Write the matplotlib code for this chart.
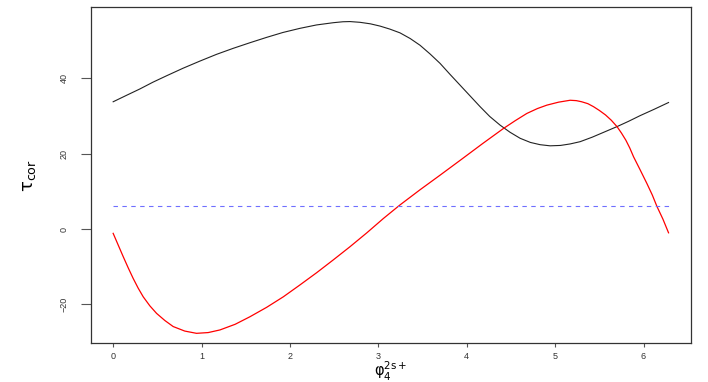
import numpy as np
import matplotlib.pyplot as plt

plt.rcParams['font.family'] = ['Liberation Sans', 'DejaVu Sans']
plt.rcParams['mathtext.fontset'] = 'dejavusans'

# values
black_x = [0.0, 0.15, 0.302, 0.45, 0.604, 0.79, 0.981, 1.17, 1.359, 1.55,
           1.736, 1.92, 2.113, 2.30, 2.491, 2.60, 2.679, 2.793, 2.91, 3.019,
           3.13, 3.245, 3.36, 3.472, 3.585, 3.698, 3.81, 3.925, 4.04, 4.151,
           4.26, 4.377, 4.49, 4.604, 4.72, 4.83, 4.943, 5.06, 5.17, 5.283,
           5.42, 5.56, 5.70, 5.83, 5.96, 6.12, 6.283]
black_y = [33.8, 35.5, 37.2, 39.0, 40.7, 42.7, 44.6, 46.4, 48.0, 49.5,
           50.9, 52.2, 53.3, 54.2, 54.8, 55.05, 55.1, 54.9, 54.5, 53.9,
           53.1, 52.1, 50.6, 48.8, 46.5, 44.0, 41.1, 38.2, 35.3, 32.5,
           29.9, 27.6, 25.7, 24.1, 23.0, 22.4, 22.1, 22.2, 22.6, 23.2,
           24.4, 25.8, 27.2, 28.6, 30.1, 31.8, 33.6]

red_x = [0.0, 0.056, 0.113, 0.17, 0.226, 0.283, 0.340, 0.415, 0.491, 0.585,
         0.679, 0.81, 0.943, 1.075, 1.208, 1.38, 1.547, 1.736, 1.925, 2.11,
         2.302, 2.49, 2.679, 2.87, 3.057, 3.245, 3.47, 3.698, 3.94, 4.18,
         4.415, 4.55, 4.68, 4.80, 4.906, 5.04, 5.17, 5.24, 5.30, 5.37,
         5.434, 5.50, 5.57, 5.635, 5.70, 5.75, 5.80, 5.845, 5.887, 5.96,
         6.038, 6.10, 6.15, 6.22, 6.283]
red_y = [-1.15, -4.2, -7.3, -10.3, -13.1, -15.7, -18.0, -20.4, -22.4, -24.3,
         -25.9, -27.1, -27.7, -27.5, -26.8, -25.3, -23.3, -20.8, -18.0, -14.9,
         -11.6, -8.2, -4.7, -1.0, 2.8, 6.4, 10.4, 14.3, 18.5, 22.7,
         26.7, 28.8, 30.7, 32.0, 32.9, 33.7, 34.2, 34.1, 33.8, 33.3,
         32.5, 31.5, 30.3, 28.9, 27.2, 25.5, 23.6, 21.5, 19.2, 15.8,
         12.1, 9.0, 6.1, 2.6, -1.0]

level_x = [0.0, 6.283]
level_y = [6.1, 6.1]

xticks = [0, 1, 2, 3, 4, 5, 6]
yticks = [-20, 0, 20, 40]

fig = plt.figure(figsize=(7.08, 3.82), dpi=100)
ax = fig.add_axes([0.1285, 0.1008, 0.8471, 0.8802])

ax.plot(black_x, black_y, color='#222222', lw=0.8)
ax.plot(red_x, red_y, color='red', lw=0.9)
ax.plot(level_x, level_y, color='#6f6fff', lw=0.8, dashes=(4, 4))

ax.set_xlim(-0.251, 6.534)
ax.set_ylim(-30.4, 58.9)
ax.set_xticks(xticks)
ax.set_yticks(yticks)

for s in ax.spines.values():
    s.set_color('#333333')
    s.set_linewidth(0.9)
ax.tick_params(axis='x', length=3, width=0.8, color='#555555', pad=3,
               labelsize=6.5, labelcolor='#333333')
ax.tick_params(axis='y', length=7, width=0.8, color='#555555', pad=9,
               labelsize=6.5, labelcolor='#333333', labelrotation=90)
for lab in ax.get_yticklabels():
    lab.set_va('center')

ax.set_xlabel(r'$\mathrm{φ}_4^{\mathrm{2s+}}$', fontsize=10.5, labelpad=-1)
ax.set_ylabel(r'$\mathrm{τ}_{\mathrm{cor}}$', fontsize=13, labelpad=16)

fig.savefig('out.png', dpi=100)
